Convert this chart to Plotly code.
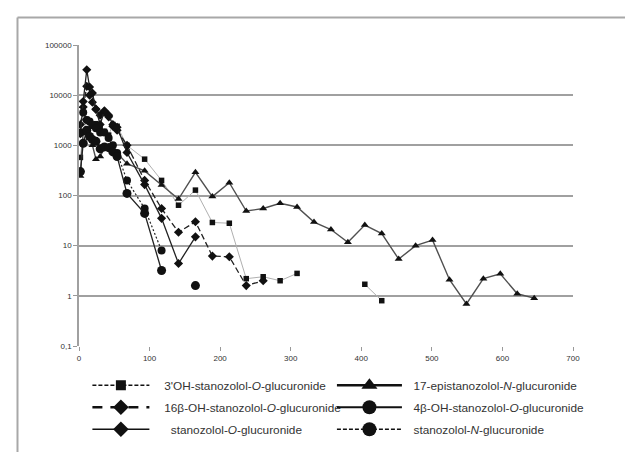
import plotly.graph_objects as go

# ---- data (time, h) ----
time_h = [2, 6, 11, 15, 19, 24, 30, 36, 42, 48, 54, 68, 93, 117, 141, 165, 189, 213, 237, 261,
          285, 309, 333, 357, 381, 405, 429, 453, 477, 501, 525, 549, 573, 597, 621, 645]

oh3_o_gluc = [575, 1800, 3300, 3000, 2600, 2700, 2400, 1900, 1600, 2600, 2400, 1000, 530, 200, 64, 128,
              29, 28, 2.2, 2.4, 2.0, 2.8, None, None, None, 1.7, 0.8, None, None, None, None, None,
              None, None, None, None]
epi17_n_gluc = [245, 1900, 2000, 1400, 1000, 530, 600, 900, 950, 800, 700, 430, 310, 162, 85, 290,
                95, 180, 49, 55, 70, 59, 29.5, 21, 11.7, 25.8, 17.4, 5.4, 10, 12.9, 2.1, 0.69,
                2.2, 2.75, 1.1, 0.9]
oh16b_o_gluc = [2600, 5800, 15000, 10000, 7200, 5200, 4000, 4700, 3700, 2400, 2000, 1000, 200, 55, 18.5, 30,
                6.2, 6.0, 1.6, 2.0, None, None, None, None, None, None, None, None, None, None,
                None, None, None, None, None, None]
oh4b_o_gluc = [300, 1100, 2000, 1500, 1300, 1200, 850, 930, 900, 740, 600, 110, 44, 3.2, None, 1.6,
               None, None, None, None, None, None, None, None, None, None, None, None, None, None,
               None, None, None, None, None, None]
stan_o_gluc = [1700, 7500, 32000, 14500, 11000, 5300, 2600, 4900, 4000, 2600, 2300, 720, 165, 35, 4.4, 15,
               None, None, None, None, None, None, None, None, None, None, None, None, None, None,
               None, None, None, None, None, None]
stan_n_gluc = [1800, 4500, 3200, 3000, 2500, 2200, 1800, 1800, 1400, 1000, 700, 200, 55, 8, None, None,
               None, None, None, None, None, None, None, None, None, None, None, None, None, None,
               None, None, None, None, None, None]

y_tickvals = [0.1, 1, 10, 100, 1000, 10000, 100000]
y_ticktext = ["0,1", "1", "10", "100", "1000", "10000", "100000"]
x_tickvals = [0, 100, 200, 300, 400, 500, 600, 700]

NB = "\u00a0"
names = {
    "oh3": NB * 3 + "3'OH-stanozolol-<i>O</i>-glucuronide",
    "epi": NB * 2 + "17-epistanozolol-<i>N</i>-glucuronide",
    "oh16": NB * 3 + "16β-OH-stanozolol-<i>O</i>-glucuronide",
    "oh4": NB * 2 + "4β-OH-stanozolol-<i>O</i>-glucuronide",
    "stO": NB * 5 + "stanozolol-<i>O</i>-glucuronide",
    "stN": NB * 2 + "stanozolol-<i>N</i>-glucuronide",
}

fig = go.Figure()

def add(y, color, width, dash, symbol, size):
    fig.add_trace(go.Scatter(
        x=time_h, y=y, mode="lines+markers", connectgaps=False, showlegend=False,
        line=dict(color=color, width=width, dash=dash),
        marker=dict(symbol=symbol, size=size, color="#111111"),
    ))

add(oh3_o_gluc, "#b0b0b0", 1, "solid", "square", 5.5)
add(epi17_n_gluc, "#505050", 1.4, "solid", "triangle-up", 7)
add(oh16b_o_gluc, "#222222", 1.3, "6px,3px", "diamond", 7)
add(stan_o_gluc, "#222222", 1.3, "solid", "diamond", 7)
add(stan_n_gluc, "#222222", 1.2, "2px,2px", "circle", 8)
add(oh4b_o_gluc, "#222222", 1.3, "solid", "circle", 9)

# legend-only entries
def leg(name, legend, group, dash, width, symbol, size):
    fig.add_trace(go.Scatter(
        x=[None], y=[None], mode="lines+markers", name=name, legend=legend, legendgroup=group,
        line=dict(color="#111111", width=width, dash=dash),
        marker=dict(symbol=symbol, size=size, color="#111111"),
    ))

leg(names["oh3"], "legend", "a", "4px,2px", 1.5, "square", 10)
leg(names["oh16"], "legend", "b", "10px,8px", 2.5, "diamond", 12)
leg(names["stO"], "legend", "c", "solid", 1.5, "diamond", 12)
leg(names["epi"], "legend2", "d", "solid", 2.5, "triangle-up", 14)
leg(names["oh4"], "legend2", "e", "solid", 2, "circle", 14)
leg(names["stN"], "legend2", "f", "4px,2px", 1.5, "circle", 14)

legfont = dict(family="Liberation Sans, Arial, sans-serif", size=11.8, color="#333333")
legcommon = dict(orientation="v", xanchor="left", yanchor="top", font=legfont,
                 bgcolor="rgba(0,0,0,0)", tracegroupgap=3, traceorder="grouped")

fig.update_layout(
    width=633, height=452,
    margin=dict(l=71, r=68, t=37, b=114, autoexpand=False),
    paper_bgcolor="white", plot_bgcolor="white",
    font=dict(family="Liberation Sans, Arial, sans-serif", size=8, color="#333333"),
    legend=dict(x=0.017, y=-0.082, itemwidth=57, **legcommon),
    legend2=dict(x=0.512, y=-0.082, itemwidth=65, **legcommon),
    xaxis=dict(range=[0, 700], tickvals=x_tickvals, showgrid=False, zeroline=False,
               showline=False, ticks="outside", ticklen=4, tickcolor="#999999",
               tickfont=dict(size=8, color="#333333")),
    yaxis=dict(type="log", range=[-1, 5], tickvals=y_tickvals, ticktext=y_ticktext,
               showgrid=True, gridcolor="#a0a0a0", gridwidth=1.5, zeroline=False,
               showline=True, linecolor="#a0a0a0", linewidth=1.5,
               ticks="outside", ticklen=4, tickcolor="#999999",
               tickfont=dict(size=8, color="#333333")),
    shapes=[
        dict(type="line", xref="paper", yref="paper", x0=-0.1245, x1=1.25, y0=1.0914, y1=1.0914,
             line=dict(color="#a8a8a8", width=2)),
        dict(type="line", xref="paper", yref="paper", x0=-0.1245, x1=-0.1245, y0=1.0914, y1=-0.5,
             line=dict(color="#a8a8a8", width=2)),
    ],
)

fig.write_html("out.html")
